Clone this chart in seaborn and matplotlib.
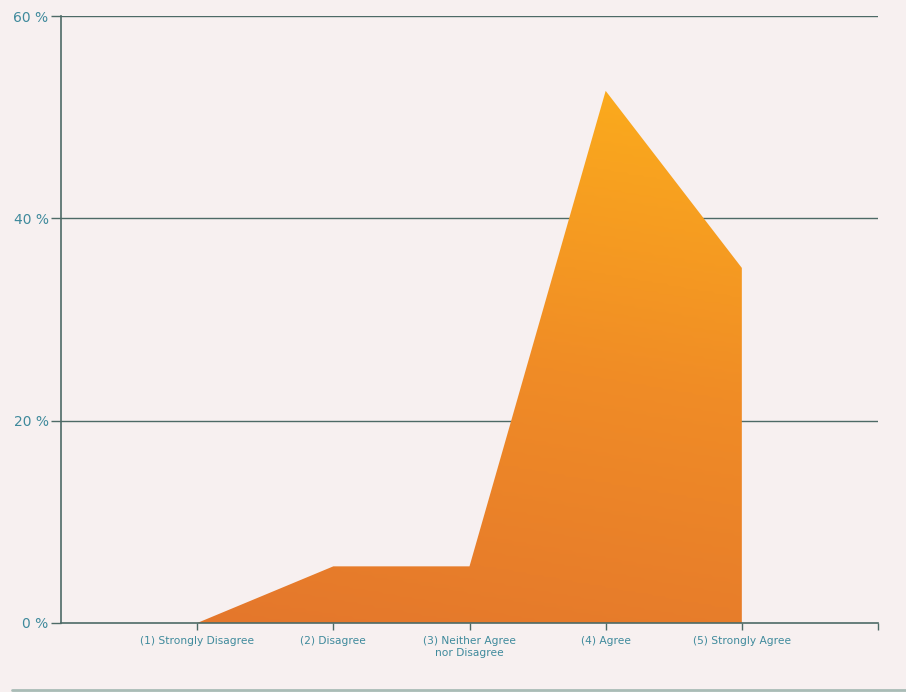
import numpy as np
import pandas as pd
import matplotlib
matplotlib.use("Agg")
import matplotlib.pyplot as plt
from matplotlib.colors import LinearSegmentedColormap
from matplotlib.lines import Line2D
import seaborn as sns

# Survey response shares (%)
categories = ["(1) Strongly Disagree", "(2) Disagree", "(3) Neither Agree\nnor Disagree",
              "(4) Agree", "(5) Strongly Agree"]
shares = [0.0, 5.6, 5.6, 52.6, 35.1]
y_ticks = [0, 20, 40, 60]
y_tick_labels = ["0 %", "20 %", "40 %", "60 %"]

df = pd.DataFrame({"pos": np.arange(len(categories)), "share": shares})

sns.set_style("white")
plt.rcParams["font.family"] = ["DejaVu Sans"]

bg = "#f7f0f0"
grid_c = "#4d6a66"
label_c = "#3f8a9c"

fig = plt.figure(figsize=(9.06, 6.92), dpi=100, facecolor=bg)
ax = fig.add_axes([61 / 906, 69 / 692, (878 - 61) / 906, (623 - 16) / 692])
ax.set_facecolor(bg)

ax.set_xlim(-1, 5)
ax.set_ylim(0, 60)

# gridlines
for t in y_ticks[1:]:
    ax.axhline(t, color=grid_c, lw=1.0, zorder=1)

# outline of the area (invisible), then the gradient-filled area
sns.lineplot(data=df, x="pos", y="share", ax=ax, lw=0, color="#f0a020", zorder=2)
poly = ax.fill_between(df["pos"], df["share"], 0, color="none", lw=0, zorder=2)

cmap = LinearSegmentedColormap.from_list("orange_grad", ["#e4772c", "#f08c26", "#fcad1c"])
ny, nx = 200, 200
yy, xx = np.mgrid[0:1:ny * 1j, 0:1:nx * 1j]
grad = 0.85 * yy + 0.15 * xx
im = ax.imshow(grad, cmap=cmap, origin="lower", extent=[0, 4, 0, 53],
               aspect="auto", zorder=3, interpolation="bilinear")
im.set_clip_path(poly.get_paths()[0], ax.transData)
ax.set_xlim(-1, 5)
ax.set_ylim(0, 60)

# axes styling
for side in ["top", "right"]:
    ax.spines[side].set_visible(False)
for side in ["left", "bottom"]:
    ax.spines[side].set_color(grid_c)
    ax.spines[side].set_linewidth(1.2)
    ax.spines[side].set_zorder(5)

ax.set_yticks(y_ticks)
ax.set_yticklabels(y_tick_labels, color=label_c, fontsize=10)
ax.tick_params(axis="y", length=7, width=1, color=grid_c, pad=2, left=True)

ax.set_xticks([0, 1, 2, 3, 4, 5])
ax.set_xticklabels(categories + [""], color=label_c, fontsize=7.7, linespacing=1.25)
ax.tick_params(axis="x", length=5, width=1, color=grid_c, pad=4, bottom=True)

ax.set_xlabel("")
ax.set_ylabel("")

# thin rule along the bottom edge of the figure
fig.add_artist(Line2D([12 / 906, 1], [2 / 692, 2 / 692], color="#a9bcb6", lw=2,
                      transform=fig.transFigure))

fig.savefig("out.png", dpi=100, facecolor=bg)
